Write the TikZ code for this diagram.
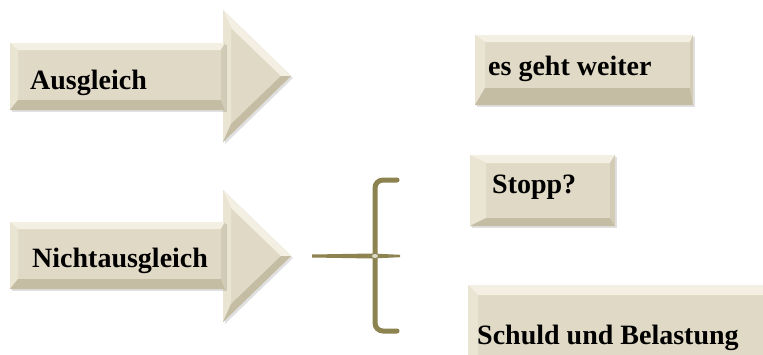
\documentclass[tikz,border=0pt]{standalone}
\usepackage{fontspec}
\setmainfont{Liberation Serif}
\usepackage{tikz}

\definecolor{beige}{RGB}{224,217,197}
\definecolor{beigehell}{RGB}{243,239,227}
\definecolor{beigemittel}{RGB}{234,228,211}
\definecolor{beigedunkel}{RGB}{196,188,163}
\definecolor{beigerand}{RGB}{210,203,181}
\definecolor{oliv}{RGB}{140,131,80}

\tikzset{
  beschriftung/.style={anchor=base west, inner sep=0pt, text=black,
    font=\fontsize{28}{30}\selectfont\bfseries},
  schatten/.style={fill=black, opacity=0.12},
  klammer/.style={draw=oliv, line width=5pt, line cap=round, rounded corners=8pt}
}

% \kasten{x1}{y1}{x2}{y2}{oben}{rechts}{unten}{links}
\newcommand{\kasten}[8]{%
  \fill[schatten] (#1+2, #2+2) rectangle (#3+2, #4+2);
  \fill[beige] (#1, #2) rectangle (#3, #4);
  \fill[beigehell] (#1, #2) -- (#3, #2) -- (#3-#6, #2+#5) -- (#1+#8, #2+#5) -- cycle;
  \fill[beigemittel] (#1, #2) -- (#1+#8, #2+#5) -- (#1+#8, #4-#7) -- (#1, #4) -- cycle;
  \fill[beigedunkel] (#1, #4) -- (#1+#8, #4-#7) -- (#3-#6, #4-#7) -- (#3, #4) -- cycle;
  \fill[beigerand] (#3, #2) -- (#3, #4) -- (#3-#6, #4-#7) -- (#3-#6, #2+#5) -- cycle;
}

% \spitze{x}{y oben}{x spitze}{y mitte}{y unten}
\newcommand{\spitze}[5]{%
  \fill[schatten] (#1+2, #2+2) -- (#3+2, #4+2) -- (#1+2, #5+2) -- cycle;
  \fill[beige] (#1, #2) -- (#3, #4) -- (#1, #5) -- cycle;
  \fill[beigehell] (#1, #2) -- (#3, #4) -- (#3-10, #4) -- (#1+8, #2+18) -- cycle;
  \fill[beigemittel] (#1, #2) -- (#1+8, #2+18) -- (#1+8, #5-18) -- (#1, #5) -- cycle;
  \fill[beigedunkel] (#1, #5) -- (#3, #4) -- (#3-10, #4) -- (#1+8, #5-18) -- cycle;
}

\begin{document}
\begin{tikzpicture}[x=1pt, y=-1pt]
  \clip (0, 0) rectangle (763, 354);
  \fill[white] (0, 0) rectangle (763, 354);
  % Pfeil Ausgleich
  \spitze{223}{10}{291}{76}{142}
  \kasten{10}{43}{225}{110}{7}{4}{10}{8}
  \node[beschriftung] (ausgleich) at (30, 89) {Ausgleich};
  % Pfeil Nichtausgleich
  \spitze{223}{190}{291}{256}{322}
  \kasten{10}{222}{225}{289}{7}{4}{10}{8}
  \node[beschriftung] (nichtausgleich) at (32, 267) {Nichtausgleich};
  % Klammer
  \coordinate (kl-oben) at (397, 180);
  \coordinate (kl-unten) at (397, 331);
  \coordinate (kl-mitte) at (375, 256);
  \draw[klammer] (kl-oben) -- (375, 180) -- (375, 331) -- (kl-unten);
  \coordinate (st-links) at (312, 256);
  \coordinate (st-rechts) at (400, 256);
  \fill[oliv] (st-links) ++(0, -1.5) -- (372, 253.5) -- (400, 254.8) -- (400, 257.2)
    -- (372, 258.5) -- (312, 257.5) -- cycle;
  \fill[white, opacity=0.7] (kl-mitte) ellipse [x radius=3, y radius=2];
  % Kasten es geht weiter
  \kasten{475}{35}{693}{105}{7}{3}{17}{10}
  \node[beschriftung] (weiter) at (488, 75) {es geht weiter};
  % Kasten Stopp
  \kasten{470}{155}{615}{226}{8}{5}{8}{16}
  \node[beschriftung] (stopp) at (492, 193) {Stopp?};
  % Kasten Schuld und Belastung
  \kasten{468}{285}{790}{380}{10}{5}{10}{10}
  \node[beschriftung] (schuld) at (477, 344) {Schuld und Belastung};
\end{tikzpicture}
\end{document}
